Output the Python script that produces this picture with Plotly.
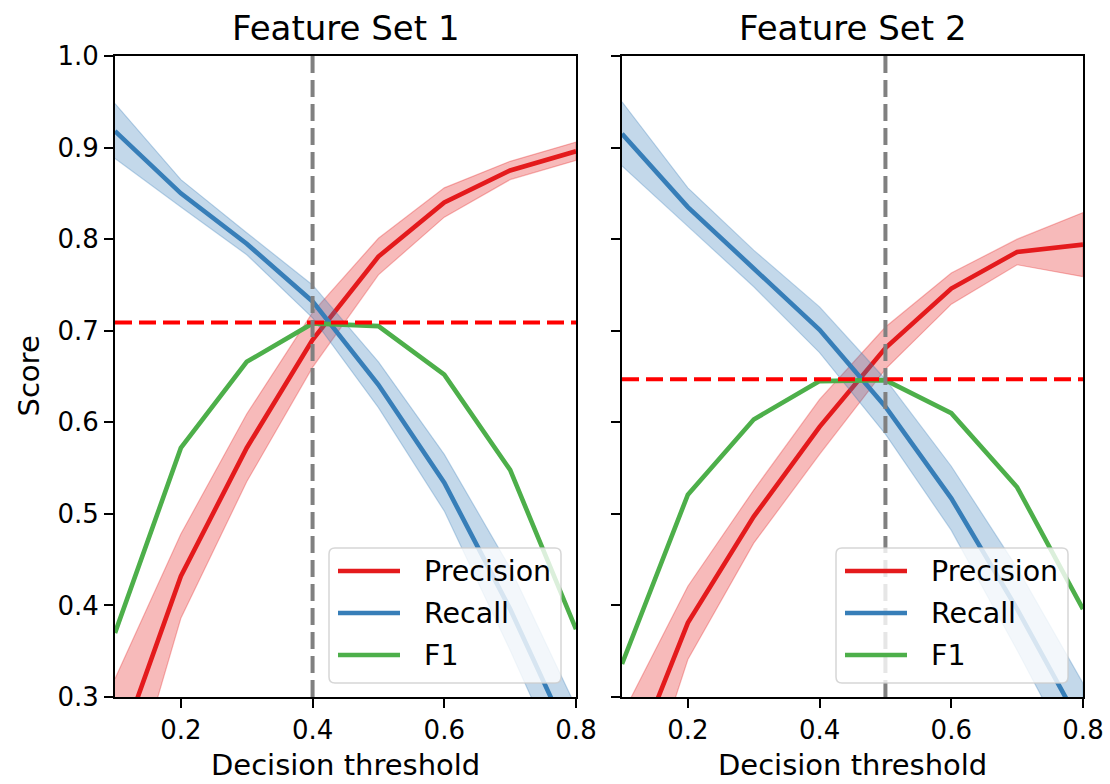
import plotly.graph_objects as go

# ---------------- data ----------------
thresholds = [0.1, 0.2, 0.3, 0.4, 0.5, 0.6, 0.7, 0.8]

fs1_precision = [0.23, 0.432, 0.572, 0.69, 0.781, 0.84, 0.875, 0.896]
fs1_precision_std = [0.09, 0.046, 0.037, 0.03, 0.02, 0.016, 0.01, 0.01]
fs1_recall = [0.918, 0.85, 0.795, 0.732, 0.641, 0.534, 0.396, 0.24]
fs1_recall_std = [0.03, 0.015, 0.012, 0.018, 0.025, 0.031, 0.045, 0.049]
fs1_f1 = [0.37, 0.572, 0.666, 0.708, 0.705, 0.652, 0.548, 0.374]
fs1_best_f1 = 0.709
fs1_best_threshold = 0.4

fs2_precision = [0.20, 0.381, 0.497, 0.595, 0.681, 0.746, 0.786, 0.794]
fs2_precision_std = [0.08, 0.04, 0.029, 0.03, 0.023, 0.017, 0.014, 0.035]
fs2_recall = [0.915, 0.835, 0.768, 0.701, 0.617, 0.517, 0.396, 0.265]
fs2_recall_std = [0.035, 0.021, 0.02, 0.025, 0.03, 0.035, 0.045, 0.05]
fs2_f1 = [0.336, 0.521, 0.603, 0.645, 0.646, 0.610, 0.529, 0.396]
fs2_best_f1 = 0.647
fs2_best_threshold = 0.5

panel_titles = ["Feature Set 1", "Feature Set 2"]
series_names = ["Precision", "Recall", "F1"]
y_ticks = [0.3, 0.4, 0.5, 0.6, 0.7, 0.8, 0.9, 1.0]
x_ticks = [0.2, 0.4, 0.6, 0.8]

# ---------------- style ----------------
W, H = 1110, 784
FONT = "DejaVu Sans"
C_PREC = "#e41a1c"
C_REC = "#377eb8"
C_F1 = "#4daf4a"
BAND_PREC = "rgba(228,26,28,0.3)"
BAND_REC = "rgba(55,126,184,0.3)"
LW = 4.6


def px(x):
    return x / W


def py(y):
    return 1 - y / H


panels = [
    dict(prec=fs1_precision, prec_std=fs1_precision_std, rec=fs1_recall,
         rec_std=fs1_recall_std, f1=fs1_f1, best=fs1_best_f1, thr=fs1_best_threshold,
         left=115, right=576),
    dict(prec=fs2_precision, prec_std=fs2_precision_std, rec=fs2_recall,
         rec_std=fs2_recall_std, f1=fs2_f1, best=fs2_best_f1, thr=fs2_best_threshold,
         left=622, right=1083),
]
TOP, BOTTOM = 56, 697

fig = go.Figure()


def band(xs, mean, std, color, xa, ya):
    up = [m + s for m, s in zip(mean, std)]
    lo = [m - s for m, s in zip(mean, std)]
    fig.add_trace(go.Scatter(
        x=list(xs) + list(xs)[::-1], y=up + lo[::-1], fill="toself",
        fillcolor=color, line=dict(color=color, width=1.2), mode="lines",
        hoverinfo="skip", showlegend=False, xaxis=xa, yaxis=ya))


shapes = []
annotations = []

for i, p in enumerate(panels):
    xa = "x" if i == 0 else "x2"
    ya = "y" if i == 0 else "y2"
    band(thresholds, p["prec"], p["prec_std"], BAND_PREC, xa, ya)
    fig.add_trace(go.Scatter(x=thresholds, y=p["prec"], mode="lines", name=series_names[0],
                             line=dict(color=C_PREC, width=LW), showlegend=False,
                             xaxis=xa, yaxis=ya))
    band(thresholds, p["rec"], p["rec_std"], BAND_REC, xa, ya)
    fig.add_trace(go.Scatter(x=thresholds, y=p["rec"], mode="lines", name=series_names[1],
                             line=dict(color=C_REC, width=LW), showlegend=False,
                             xaxis=xa, yaxis=ya))
    fig.add_trace(go.Scatter(x=thresholds, y=p["f1"], mode="lines", name=series_names[2],
                             line=dict(color=C_F1, width=LW), showlegend=False,
                             xaxis=xa, yaxis=ya))
    fig.add_trace(go.Scatter(x=[thresholds[0], thresholds[-1]], y=[p["best"], p["best"]],
                             mode="lines", line=dict(color="#ff0000", width=4, dash="17px,7px"),
                             showlegend=False, hoverinfo="skip", xaxis=xa, yaxis=ya))
    fig.add_trace(go.Scatter(x=[p["thr"], p["thr"]], y=[y_ticks[-1], y_ticks[0]],
                             mode="lines", line=dict(color="#808080", width=4, dash="17px,7px"),
                             showlegend=False, hoverinfo="skip", xaxis=xa, yaxis=ya))

    cx = (p["left"] + p["right"]) / 2
    annotations.append(dict(text=panel_titles[i], x=px(cx), y=py(28), xref="paper", yref="paper",
                            showarrow=False, font=dict(family=FONT, size=34, color="black"),
                            xanchor="center", yanchor="middle"))
    annotations.append(dict(text="Decision threshold", x=px(cx), y=py(765), xref="paper",
                            yref="paper", showarrow=False,
                            font=dict(family=FONT, size=29, color="black"),
                            xanchor="center", yanchor="middle"))

    off = p["left"] - 115
    bx0, bx1, by0, by1 = 329 + off, 561 + off, 548, 683
    r = 6
    rx, ry = r / W, r / H
    X0, X1, Y0, Y1 = px(bx0), px(bx1), py(by1), py(by0)
    path = (f"M {X0+rx},{Y0} L {X1-rx},{Y0} Q {X1},{Y0} {X1},{Y0+ry} "
            f"L {X1},{Y1-ry} Q {X1},{Y1} {X1-rx},{Y1} L {X0+rx},{Y1} "
            f"Q {X0},{Y1} {X0},{Y1-ry} L {X0},{Y0+ry} Q {X0},{Y0} {X0+rx},{Y0} Z")
    shapes.append(dict(type="path", path=path, xref="paper", yref="paper",
                       fillcolor="rgba(255,255,255,0.8)",
                       line=dict(color="rgba(204,204,204,0.8)", width=1.5), layer="above"))
    for name, col, yy in zip(series_names, [C_PREC, C_REC, C_F1], [571, 613, 655]):
        shapes.append(dict(type="line", xref="paper", yref="paper",
                           x0=px(338 + off), x1=px(400 + off), y0=py(yy), y1=py(yy),
                           line=dict(color=col, width=LW), layer="above"))
        annotations.append(dict(text=name, x=px(422 + off), y=py(yy), xref="paper", yref="paper",
                                showarrow=False, font=dict(family=FONT, size=28.5, color="black"),
                                xanchor="left", yanchor="middle"))

annotations.append(dict(text="Score", x=px(28), y=py((TOP + BOTTOM) / 2), xref="paper",
                        yref="paper", showarrow=False, textangle=-90,
                        font=dict(family=FONT, size=29, color="black"),
                        xanchor="center", yanchor="middle"))

axis_common = dict(showline=True, linecolor="black", linewidth=1.8, mirror=True,
                   ticks="outside", ticklen=9, tickwidth=1.8, tickcolor="black",
                   showgrid=False, zeroline=False, automargin=False,
                   tickfont=dict(family=FONT, size=26, color="black"))

fig.update_layout(
    width=W, height=H,
    margin=dict(l=0, r=0, t=0, b=0, pad=0, autoexpand=False),
    paper_bgcolor="white", plot_bgcolor="white",
    showlegend=False,
    shapes=shapes, annotations=annotations,
    xaxis=dict(domain=[px(115), px(576)], range=[0.1, 0.8], tickvals=x_ticks,
               ticktext=[f"{v:.1f}" for v in x_ticks], anchor="y", **axis_common),
    xaxis2=dict(domain=[px(622), px(1083)], range=[0.1, 0.8], tickvals=x_ticks,
                ticktext=[f"{v:.1f}" for v in x_ticks], anchor="y2", **axis_common),
    yaxis=dict(domain=[py(BOTTOM), py(TOP)], range=[0.3, 1.0], tickvals=y_ticks,
               ticktext=[f"{v:.1f}" for v in y_ticks], anchor="x", **axis_common),
    yaxis2=dict(domain=[py(BOTTOM), py(TOP)], range=[0.3, 1.0], tickvals=y_ticks,
                showticklabels=False, anchor="x2", **axis_common),
)

fig.write_html("out.html")
